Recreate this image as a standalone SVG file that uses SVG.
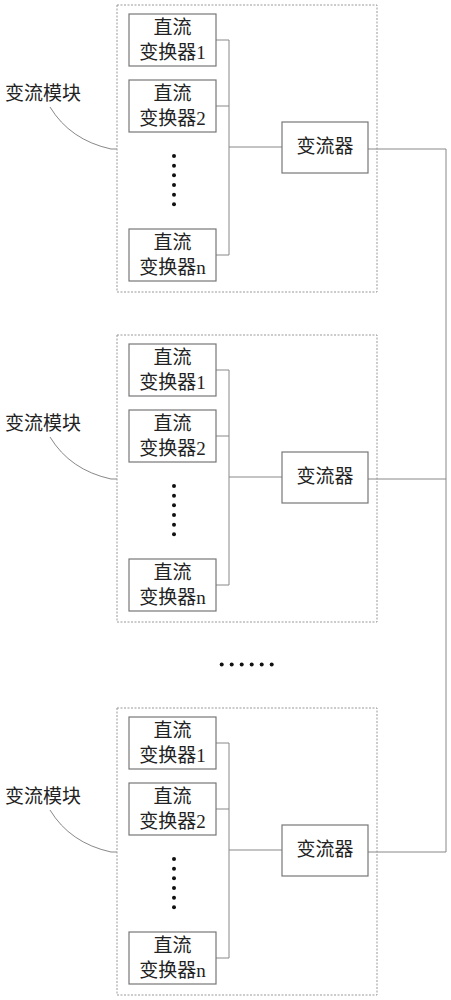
<svg xmlns="http://www.w3.org/2000/svg" width="451" height="1000" viewBox="0 0 451 1000">
<style>
.bg{fill:#fff}
.mod{fill:none;stroke:#999;stroke-width:1;stroke-dasharray:2 1.5}
.box{fill:#fff;stroke:#777;stroke-width:1.2}
.ln{fill:none;stroke:#888;stroke-width:1}
.t{font-family:"Liberation Serif","Noto Sans CJK SC",serif;font-size:19px;fill:#222;text-anchor:middle}
.lbl{font-family:"Noto Sans CJK SC",sans-serif;font-size:19px;fill:#222}
.dot{fill:#111}
</style>
<defs>
<g id="dots">
<circle class="dot" cx="174" cy="156" r="2"/>
<circle class="dot" cx="174" cy="165.7" r="2"/>
<circle class="dot" cx="174" cy="175.3" r="2"/>
<circle class="dot" cx="174" cy="185" r="2"/>
<circle class="dot" cx="174" cy="194.7" r="2"/>
<circle class="dot" cx="174" cy="204.3" r="2"/>
</g>
</defs>
<rect class="bg" x="0" y="0" width="451" height="1000"/>

<g id="connectors">
<g transform="translate(0,0)">
<path class="ln" d="M216,40H229V255H216M216,106H229M229,147H282"/>
<path class="ln" d="M111,149Q70,140 50,107M111,149H117"/>
</g>
<g transform="translate(0,330)">
<path class="ln" d="M216,40H229V255H216M216,106H229M229,147H282"/>
<path class="ln" d="M111,149Q70,140 50,107M111,149H117"/>
</g>
<g transform="translate(0,703)">
<path class="ln" d="M216,40H229V255H216M216,106H229M229,147H282"/>
<path class="ln" d="M111,149Q70,140 50,107M111,149H117"/>
</g>
<path class="ln" d="M368,149H446V852H368M368,479H446"/>
</g>

<g id="module1">
<rect class="mod" x="117" y="5" width="260" height="287"/>
<text class="lbl" x="5" y="100">变流模块</text>
<g id="m1-dc1"><rect class="box" x="129" y="14" width="87" height="52"/><text class="t" x="172.5" y="34">直流</text><text class="t" x="172.5" y="59">变换器1</text></g>
<g id="m1-dc2"><rect class="box" x="129" y="80" width="87" height="52"/><text class="t" x="172.5" y="100">直流</text><text class="t" x="172.5" y="125">变换器2</text></g>
<use href="#dots"/>
<g id="m1-dcn"><rect class="box" x="129" y="229" width="87" height="52"/><text class="t" x="172.5" y="249">直流</text><text class="t" x="172.5" y="274">变换器n</text></g>
<g id="m1-inv"><rect class="box" x="282" y="122" width="86" height="51"/><text class="t" x="325" y="153">变流器</text></g>
</g>

<g id="module2" transform="translate(0,330)">
<rect class="mod" x="117" y="5" width="260" height="287"/>
<text class="lbl" x="5" y="100">变流模块</text>
<g id="m2-dc1"><rect class="box" x="129" y="14" width="87" height="52"/><text class="t" x="172.5" y="34">直流</text><text class="t" x="172.5" y="59">变换器1</text></g>
<g id="m2-dc2"><rect class="box" x="129" y="80" width="87" height="52"/><text class="t" x="172.5" y="100">直流</text><text class="t" x="172.5" y="125">变换器2</text></g>
<use href="#dots"/>
<g id="m2-dcn"><rect class="box" x="129" y="229" width="87" height="52"/><text class="t" x="172.5" y="249">直流</text><text class="t" x="172.5" y="274">变换器n</text></g>
<g id="m2-inv"><rect class="box" x="282" y="122" width="86" height="51"/><text class="t" x="325" y="153">变流器</text></g>
</g>

<g id="ellipsis">
<circle class="dot" cx="221.7" cy="664.5" r="2"/>
<circle class="dot" cx="231.7" cy="664.5" r="2"/>
<circle class="dot" cx="241.7" cy="664.5" r="2"/>
<circle class="dot" cx="251.7" cy="664.5" r="2"/>
<circle class="dot" cx="261.7" cy="664.5" r="2"/>
<circle class="dot" cx="271.7" cy="664.5" r="2"/>
</g>

<g id="module3" transform="translate(0,703)">
<rect class="mod" x="117" y="5" width="260" height="287"/>
<text class="lbl" x="5" y="100">变流模块</text>
<g id="m3-dc1"><rect class="box" x="129" y="14" width="87" height="52"/><text class="t" x="172.5" y="34">直流</text><text class="t" x="172.5" y="59">变换器1</text></g>
<g id="m3-dc2"><rect class="box" x="129" y="80" width="87" height="52"/><text class="t" x="172.5" y="100">直流</text><text class="t" x="172.5" y="125">变换器2</text></g>
<use href="#dots"/>
<g id="m3-dcn"><rect class="box" x="129" y="229" width="87" height="52"/><text class="t" x="172.5" y="249">直流</text><text class="t" x="172.5" y="274">变换器n</text></g>
<g id="m3-inv"><rect class="box" x="282" y="122" width="86" height="51"/><text class="t" x="325" y="153">变流器</text></g>
</g>
</svg>
